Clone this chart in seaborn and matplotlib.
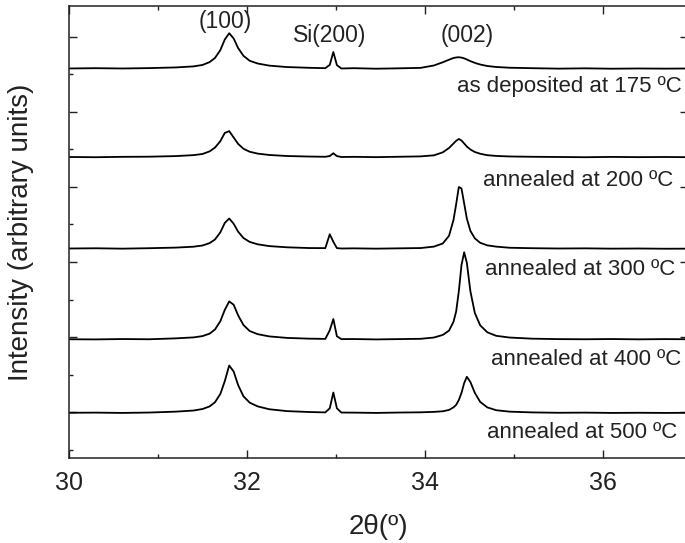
import matplotlib
matplotlib.use("Agg")
import matplotlib.pyplot as plt
import numpy as np
import pandas as pd
import seaborn as sns
from matplotlib.ticker import MultipleLocator

# 2-theta sampling points (degrees), denser around the peaks
two_theta = [30.0, 30.3, 30.6, 30.9, 31.2, 31.4, 31.5, 31.58, 31.64, 31.70,
             31.75, 31.80, 31.85, 31.90, 31.96, 32.03, 32.12, 32.25, 32.45, 32.7,
             32.88, 32.93, 32.97, 33.01, 33.06, 33.2, 33.45, 33.7, 33.95, 34.1,
             34.2, 34.27, 34.32, 34.35, 34.38, 34.41, 34.44, 34.47, 34.51, 34.56,
             34.62, 34.70, 34.80, 34.95, 35.2, 35.5, 35.8, 36.1, 36.4, 36.7, 37.0]

# intensity above each trace's own baseline (arbitrary units)
int_175 = [0.0, 0.004, 0.0, 0.005, 0.014, 0.028, 0.047, 0.085, 0.14, 0.244,
           0.385, 0.47, 0.40, 0.273, 0.169, 0.103, 0.066, 0.038, 0.019, 0.009,
           0.004, 0.048, 0.22, 0.045, 0.0, 0.004, -0.003, 0.002, 0.008, 0.04,
           0.083, 0.117, 0.14, 0.147, 0.15, 0.145, 0.135, 0.12, 0.098, 0.075,
           0.053, 0.033, 0.02, 0.01, 0.004, -0.002, 0.002, -0.003, 0.0, -0.002, 0.0]
int_200 = [0.0, -0.003, 0.002, 0.004, 0.012, 0.025, 0.04, 0.075, 0.125, 0.21,
           0.32, 0.345, 0.26, 0.175, 0.11, 0.07, 0.045, 0.027, 0.013, 0.006,
           0.003, 0.013, 0.05, 0.012, 0.0, 0.002, -0.002, 0.003, 0.008, 0.022,
           0.062, 0.12, 0.18, 0.216, 0.24, 0.22, 0.18, 0.14, 0.10, 0.067,
           0.043, 0.024, 0.014, 0.007, 0.003, 0.0, -0.003, 0.001, -0.002, 0.0, -0.003]
int_300 = [0.0, 0.003, -0.002, 0.004, 0.012, 0.024, 0.04, 0.072, 0.12, 0.215,
           0.34, 0.40, 0.33, 0.225, 0.14, 0.088, 0.056, 0.032, 0.016, 0.006,
           0.005, 0.19, 0.09, 0.005, 0.0, 0.002, -0.002, 0.002, 0.006, 0.025,
           0.067, 0.17, 0.38, 0.59, 0.82, 0.80, 0.60, 0.40, 0.235, 0.135,
           0.076, 0.042, 0.025, 0.01, 0.004, 0.0, 0.002, -0.002, 0.0, -0.003, -0.002]
int_400 = [0.0, -0.002, 0.003, 0.0, 0.012, 0.025, 0.042, 0.075, 0.13, 0.24,
           0.39, 0.505, 0.46, 0.32, 0.19, 0.11, 0.068, 0.038, 0.018, 0.008,
           0.005, 0.12, 0.27, 0.04, 0.002, 0.003, -0.002, 0.002, 0.006, 0.023,
           0.058, 0.116, 0.232, 0.37, 0.64, 0.99, 1.16, 1.02, 0.64, 0.35,
           0.186, 0.093, 0.046, 0.023, 0.008, 0.002, 0.0, 0.003, -0.001, 0.002, 0.0]
int_500 = [0.0, 0.002, -0.002, 0.003, 0.015, 0.03, 0.05, 0.085, 0.14, 0.25,
           0.42, 0.63, 0.55, 0.37, 0.22, 0.135, 0.085, 0.047, 0.022, 0.01,
           0.005, 0.06, 0.27, 0.06, 0.003, 0.002, -0.002, 0.003, 0.006, 0.012,
           0.02, 0.038, 0.072, 0.105, 0.17, 0.265, 0.395, 0.48, 0.41, 0.265,
           0.145, 0.072, 0.034, 0.015, 0.005, 0.0, 0.002, -0.002, 0.0, -0.002, 0.0]

# vertical offsets used to stack the patterns
offsets = [4.58, 3.40, 2.18, 0.97, -0.01]
sample_labels = ["as deposited at 175 ºC", "annealed at 200 ºC", "annealed at 300 ºC",
                 "annealed at 400 ºC", "annealed at 500 ºC"]
label_pos = [(34.36, 4.27), (34.65, 3.01), (34.67, 1.83), (34.74, 0.63), (34.70, -0.35)]

peak_names = ["(100)", "Si(200)", "(002)"]
peak_pos = [(31.75, 5.12), (32.93, 4.93), (34.47, 4.93)]

sns.set_style("ticks")
plt.rcParams['font.family'] = ['Liberation Sans', 'DejaVu Sans']

fig = plt.figure(figsize=(6.85, 5.43), dpi=100)
ax = fig.add_axes([69 / 685, 1 - 458 / 543, (688 - 69) / 685, (458 - 6) / 543])

intensities = [int_175, int_200, int_300, int_400, int_500]
for inten, off in zip(intensities, offsets):
    df = pd.DataFrame({"2theta": two_theta, "I": np.array(inten) + off})
    sns.lineplot(data=df, x="2theta", y="I", color="black", linewidth=1.3, ax=ax)

for txt, (x, y) in zip(sample_labels, label_pos):
    ax.text(x, y, txt, fontsize=16, ha="left", va="baseline", color="#222222")
for txt, (x, y) in zip(peak_names, peak_pos):
    ax.text(x, y, txt, fontsize=16.5, ha="center", va="baseline", color="#222222")

ax.set_xlim(30, 36.955)
ax.set_ylim(-0.613, 5.413)
ax.xaxis.set_major_locator(MultipleLocator(2))
ax.xaxis.set_minor_locator(MultipleLocator(1))
ax.yaxis.set_major_locator(MultipleLocator(1))
ax.yaxis.set_minor_locator(MultipleLocator(0.5))
ax.set_yticklabels([])
ax.tick_params(axis="both", which="both", direction="in", top=True, right=True,
               width=1.0, labelsize=18, pad=9, colors="#222222")
ax.tick_params(axis="both", which="major", length=5.8)
ax.tick_params(axis="both", which="minor", length=3)
ax.tick_params(axis="y", which="minor", right=False)
for s in ax.spines.values():
    s.set_linewidth(1.1)
    s.set_color("#222222")

ax.set_xlabel("2θ(º)", fontsize=20, labelpad=14, color="#222222")
ax.set_ylabel("Intensity (arbitrary units)", fontsize=20, labelpad=16, color="#222222")

fig.savefig("out.png", dpi=100)
